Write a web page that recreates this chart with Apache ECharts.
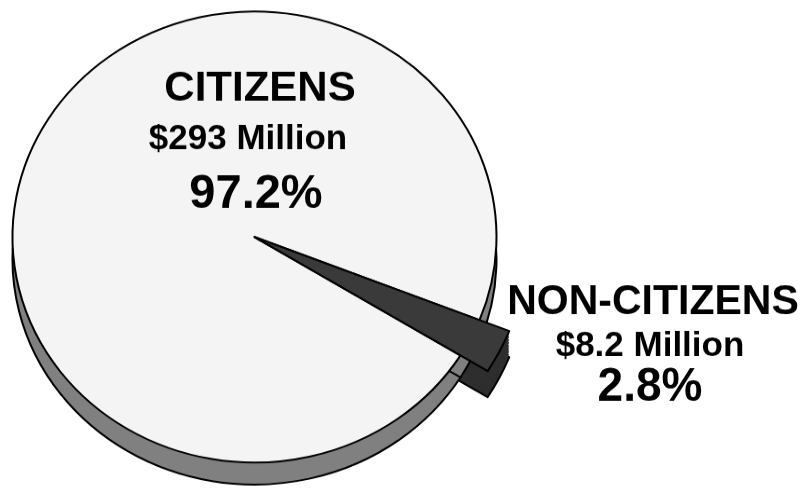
<!DOCTYPE html>
<html>
<head>
<meta charset="utf-8">
<script src="https://cdn.jsdelivr.net/npm/echarts@6/dist/echarts.min.js"></script>
<style>
html,body{margin:0;padding:0;background:#fff;overflow:hidden;width:806px;height:488px;}
#c{position:absolute;left:0;top:0;width:806px;height:524px;transform:scaleY(0.932);transform-origin:0 0;}
</style>
</head>
<body>
<div id="c"></div>
<script>
// ---- data ----
const categories = ['CITIZENS', 'NON-CITIZENS'];
const amountLabels = ['$293 Million', '$8.2 Million'];
const shares = [97.2, 2.8];

// ---- layout ----
const SY = 0.932;            // vertical squash to make the pie elliptical
const CX = 254.5, CY = 237 / SY;
const R = 242, RW = 274;     // pie radius, long wedge radius
const DEPTH = 22 / SY, WDEPTH = 26 / SY;
const START = -21.6;

const FONT = "'Liberation Sans', Arial, Helvetica, sans-serif";

function pieData(citColor, nonColor, citBorder, nonBorder) {
  // order: non-citizens first, so it starts at START going clockwise
  return [
    { name: categories[1], value: shares[1], itemStyle: { color: nonColor, borderColor: '#000', borderWidth: nonBorder } },
    { name: categories[0], value: shares[0], itemStyle: { color: citColor, borderColor: '#000', borderWidth: citBorder } }
  ];
}

function pie(cy, r, data, z) {
  return {
    type: 'pie', silent: true, animation: false, clockwise: true,
    startAngle: START, center: [CX, cy], radius: [0, r],
    label: { show: false }, labelLine: { show: false },
    emphasis: { disabled: true }, z: z,
    data: data
  };
}

const series = [];
// wedge side (extrusion of the long slice)
series.push(pie(CY + WDEPTH, RW, pieData('rgba(0,0,0,0)', '#2e2e2e', 0, 2), 1));
for (let k = 1; k <= 8; k++) {
  const off = WDEPTH * (1 - k / 9);
  series.push(pie(CY + off, RW, pieData('rgba(0,0,0,0)', '#2e2e2e', 0, 0), 1 + k * 0.01));
}
// pie side wall
series.push(pie(CY + DEPTH, R, pieData('#808080', '#808080', 2, 2), 2));
// pie top face
series.push(pie(CY, R, pieData('#f4f4f4', '#f4f4f4', 2, 0), 3));
// long wedge top face
series.push(pie(CY, RW, pieData('rgba(0,0,0,0)', '#3a3a3a', 0, 2), 4));

function txt(x, y, text, size) {
  return {
    type: 'text', x: x, y: y / SY, scaleY: 1 / SY, silent: true, z: 10,
    style: { text: text, font: 'bold ' + size + 'px ' + FONT, fill: '#000', align: 'center', verticalAlign: 'middle' }
  };
}

const graphic = [
  txt(260, 89, categories[0], 42),
  txt(248, 139, amountLabels[0], 35),
  txt(256, 195, shares[0].toFixed(1) + '%', 47),
  txt(653, 303, categories[1], 41),
  txt(650, 346, amountLabels[1], 35),
  txt(650, 388, shares[1].toFixed(1) + '%', 46)
];

const chart = echarts.init(document.getElementById('c'), null, { renderer: 'canvas' });
chart.setOption({
  backgroundColor: '#ffffff',
  animation: false,
  series: series,
  graphic: graphic
});
</script>
</body>
</html>
